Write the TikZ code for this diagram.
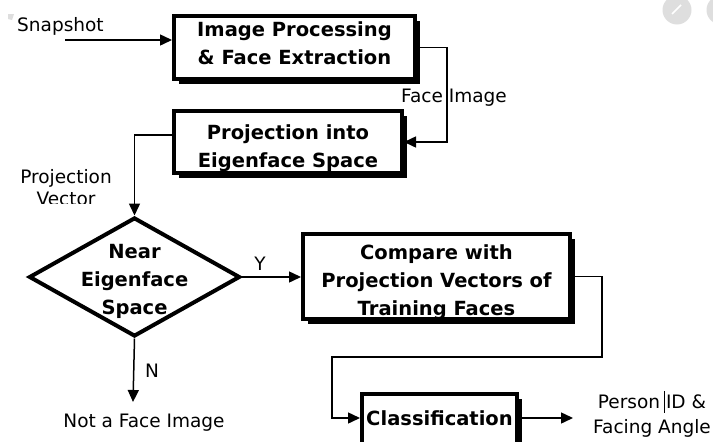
\documentclass[tikz,border=0pt]{standalone}
\usepackage{fontspec}
\setmainfont{DejaVu Sans}
\usetikzlibrary{arrows.meta,shapes.geometric,shadows}

\begin{document}
\begin{tikzpicture}[x=1pt,y=-1pt,
  procbox/.style={draw=black, line width=4pt, fill=white, inner sep=0pt,
    drop shadow={shadow xshift=4.5pt, shadow yshift=-4.5pt, fill=black, opacity=1}},
  decision/.style={diamond, draw=black, line width=4pt, fill=white, inner sep=0pt,
    minimum width=211pt, minimum height=119pt},
  boxtext/.style={font=\bfseries\fontsize{19.5}{28}\selectfont, align=center, inner sep=0pt},
  lbl/.style={font=\fontsize{18.5}{22}\selectfont, inner sep=0pt, align=center},
  flow/.style={line width=1.5pt, -{Triangle[length=12pt,width=11pt]}},
  artefact/.style={fill=black!13, draw=none}]

  \useasboundingbox (0,0) rectangle (713,442);
  \clip (0,0) rectangle (713,442);

  % faint marks along the upper edge
  \fill[artefact] (8,14) -- (14,14) -- (12,20) -- (8,19) -- cycle;
  \fill[artefact] (677,10) circle[radius=14.5];
  \draw[white, line width=1.5pt] (672,14) -- (681,5);
  \fill[artefact] (721,10) circle[radius=14.5];

  % process boxes (text placed as centred labels so it can be nudged)
  \node[procbox, minimum width=241pt, minimum height=63pt,
    label={[boxtext, yshift=4pt]center:Image Processing\\\& Face Extraction}] (b1) at (294.5,47.5) {};
  \node[procbox, minimum width=228pt, minimum height=62pt,
    label={[boxtext, yshift=-6pt]center:Projection into\\Eigenface Space}] (b2) at (288,142) {};
  \node[procbox, minimum width=267pt, minimum height=85pt,
    label={[boxtext, yshift=-6pt]center:Compare with\\Projection Vectors of\\Training Faces}] (b3) at (436.5,276.5) {};
  \node[procbox, minimum width=155pt, minimum height=60pt,
    label={[boxtext, yshift=6pt]center:Classification}] (b4) at (439.5,424) {};

  % decision
  \node[decision, label={[boxtext, yshift=-4pt]center:Near\\Eigenface\\Space}] (dec) at (134.5,277) {};

  % free ends of the connectors
  \coordinate (snapin) at (65,40);
  \coordinate (fi) at (447,100);
  \coordinate (r1) at (602,357);
  \coordinate (r2) at (332,357);
  \coordinate (nend) at (133,402);
  \coordinate (outp) at (573,418);

  % connectors
  \draw[flow] (snapin) -- (snapin -| b1.west);
  \draw[flow] (b1.east) -| (fi) |- (b2.east);
  \draw[flow] ([yshift=7pt]b2.west) -| (dec.north);
  \draw[flow] (dec.east) -- (dec.east -| b3.west);
  \draw[flow] (b3.east) -| (r1) -- (r2) |- ([yshift=6pt]b4.west);
  \draw[flow] (dec.south) -- (nend);
  \draw[flow] ([yshift=6pt]b4.east) -- (outp);

  % labels
  \node[lbl, anchor=base west] (snap) at (17,31) {Snapshot};
  \node[lbl, anchor=base west] (faceimg) at (401,102) {Face Image};
  \begin{scope}
    \clip (0,160) rectangle (170,203);
    \node[lbl, anchor=base] (projvec) at (66,205) {Projection\\Vector};
  \end{scope}
  \node[lbl, anchor=base] (ylbl) at (260,270) {Y};
  \node[lbl, anchor=base] (nlbl) at (152,377) {N};
  \node[lbl, anchor=base] (notface) at (144,427) {Not a Face Image};
  \node[lbl, anchor=base, font=\fontsize{18.5}{25}\selectfont] (pid) at (652,433)
    {Person ID \&\\Facing Angle};
  \draw[line width=0.8pt] (664,391) -- (664,413);
\end{tikzpicture}
\end{document}
